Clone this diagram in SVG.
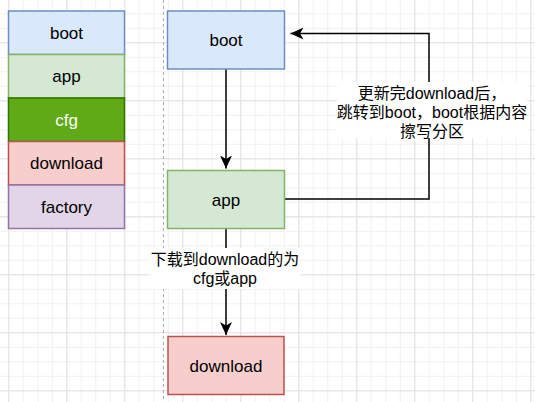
<svg xmlns="http://www.w3.org/2000/svg" width="535" height="402" viewBox="0 0 535 402">
<defs>
<pattern id="minor" patternUnits="userSpaceOnUse" x="8.3" y="42.3" width="14.5" height="14.5">
<path d="M0 0.5H14.5M0.5 0V14.5" stroke="#f1f1f1" stroke-width="1" fill="none"/>
</pattern>
<pattern id="major" patternUnits="userSpaceOnUse" x="8.3" y="42.3" width="58" height="58">
<path d="M0 0.5H58M0.5 0V58" stroke="#e2e2e2" stroke-width="1" fill="none"/>
</pattern>
<marker id="arr" viewBox="0 0 14 12" refX="13" refY="6" markerWidth="14" markerHeight="12" markerUnits="userSpaceOnUse" orient="auto">
<path d="M0 0L13 6L0 12L3.5 6Z" fill="#000"/>
</marker>
</defs>
<style>
.t{font-family:"Liberation Sans","Noto Sans CJK SC",sans-serif;font-size:17px;text-anchor:middle;fill:#000}
.l{font-family:"Liberation Sans","Noto Sans CJK SC",sans-serif;font-size:16px;text-anchor:middle;fill:#000}
.b{stroke-width:1.5}
.e{fill:none;stroke:#000;stroke-width:1.5}
</style>
<rect width="535" height="402" fill="#fff"/>
<rect width="535" height="402" fill="url(#minor)"/>
<rect width="535" height="402" fill="url(#major)"/>
<line x1="163.5" y1="0" x2="163.5" y2="402" stroke="#aaa" stroke-width="1" stroke-dasharray="3 3"/>
<g id="stack-boot"><rect class="b" x="8.5" y="11" width="116" height="43.5" fill="#dae8fc" stroke="#6c8ebf"/><text class="t" x="66.5" y="38.5">boot</text></g>
<g id="stack-app"><rect class="b" x="8.5" y="54.5" width="116" height="43.5" fill="#d5e8d4" stroke="#82b366"/><text class="t" x="66.5" y="82">app</text></g>
<g id="stack-cfg"><rect class="b" x="8.5" y="98" width="116" height="43.5" fill="#60a917" stroke="#2d7600"/><text class="t" x="66.5" y="125.5" style="fill:#fff">cfg</text></g>
<g id="stack-download"><rect class="b" x="8.5" y="141.5" width="116" height="43.5" fill="#f8cecc" stroke="#b85450"/><text class="t" x="66.5" y="169">download</text></g>
<g id="stack-factory"><rect class="b" x="8.5" y="185" width="116" height="43.5" fill="#e1d5e7" stroke="#9673a6"/><text class="t" x="66.5" y="212.5">factory</text></g>
<g id="connectors">
<path class="e" d="M226 69V168.5" marker-end="url(#arr)"/>
<path class="e" d="M226 228.5V335" marker-end="url(#arr)"/>
<path class="e" d="M284.5 199H429V33.5H290.5" marker-end="url(#arr)"/>
<rect x="149" y="248" width="151" height="41" fill="#fff"/>
<text class="l" x="225" y="265">下载到download的为</text>
<text class="l" x="225" y="284">cfg或app</text>
<rect x="337" y="82" width="190" height="56" fill="#fff"/>
<text class="l" x="432" y="99">更新完download后，</text>
<text class="l" x="432" y="118">跳转到boot，boot根据内容</text>
<text class="l" x="432" y="137">擦写分区</text>
</g>
<g id="boot"><rect class="b" x="167.5" y="11" width="117" height="58" fill="#dae8fc" stroke="#6c8ebf"/><text class="t" x="226" y="46">boot</text></g>
<g id="app"><rect class="b" x="167.5" y="170.5" width="117" height="58" fill="#d5e8d4" stroke="#82b366"/><text class="t" x="226" y="205.5">app</text></g>
<g id="download"><rect class="b" x="168" y="336.5" width="116" height="58" fill="#f8cecc" stroke="#b85450"/><text class="t" x="226" y="371.5">download</text></g>
</svg>
